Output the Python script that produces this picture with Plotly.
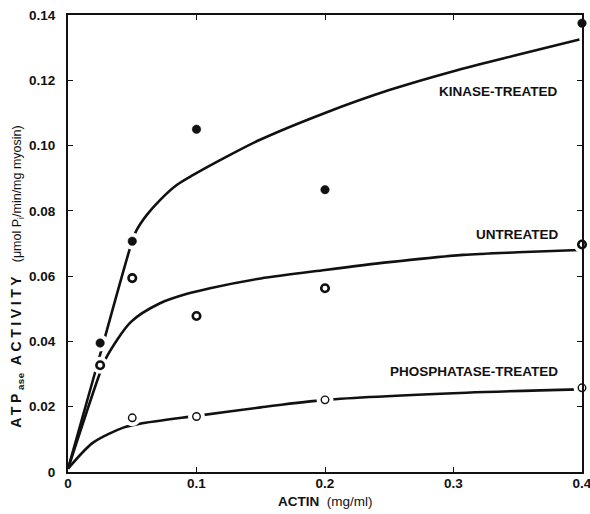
import plotly.graph_objects as go

# ---- data ----
actin = [0.025, 0.05, 0.1, 0.2, 0.4]
kinase_pts = [0.0395, 0.0707, 0.105, 0.0865, 0.1375]
untreated_pts = [0.0327, 0.0594, 0.0478, 0.0563, 0.0697]
phos_x = [0.05, 0.1, 0.2, 0.4]
phos_pts = [0.0166, 0.0170, 0.0221, 0.0258]

kin_curve_x = [0, 0.025, 0.05, 0.0534, 0.0612, 0.0716, 0.0846, 0.0975, 0.1235, 0.149, 0.2, 0.25, 0.3, 0.35, 0.398]
kin_curve_y = [0.001, 0.036, 0.0708, 0.0741, 0.0787, 0.0833, 0.0879, 0.0910, 0.0966, 0.1017, 0.110, 0.117, 0.1228, 0.1278, 0.1325]

unt_curve_x = [0, 0.025, 0.0301, 0.049, 0.0716, 0.092, 0.1105, 0.15, 0.2, 0.25, 0.3075, 0.35, 0.398]
unt_curve_y = [0.001, 0.0305, 0.0353, 0.046, 0.0517, 0.0545, 0.0563, 0.0593, 0.0619, 0.0643, 0.0665, 0.0673, 0.0680]

pho_curve_x = [0, 0.0195, 0.043, 0.056, 0.1, 0.15, 0.2, 0.31, 0.398]
pho_curve_y = [0.001, 0.009, 0.0136, 0.0148, 0.0172, 0.0198, 0.0221, 0.0243, 0.0253]

x_ticks = [0, 0.1, 0.2, 0.3, 0.4]
x_ticktext = ["0", "0.1", "0.2", "0.3", "0.4"]
y_ticks = [0, 0.02, 0.04, 0.06, 0.08, 0.10, 0.12, 0.14]
y_ticktext = ["0", "0.02", "0.04", "0.06", "0.08", "0.10", "0.12", "0.14"]

labels = ["KINASE-TREATED", "UNTREATED", "PHOSPHATASE-TREATED"]
label_y = [0.1165, 0.0728, 0.0307]

INK = "#111111"
FONT = "Liberation Sans, Arial, sans-serif"

fig = go.Figure()

line_style = dict(color=INK, width=2.6)
for cx, cy in [(kin_curve_x, kin_curve_y), (unt_curve_x, unt_curve_y), (pho_curve_x, pho_curve_y)]:
    fig.add_trace(go.Scatter(x=cx, y=cy, mode="lines", line=dict(shape="spline", smoothing=0.8, **line_style),
                             hoverinfo="skip", showlegend=False))

# white halos to break the curves around the points
for px, py in [(actin, kinase_pts), (actin, untreated_pts), (phos_x, phos_pts)]:
    fig.add_trace(go.Scatter(x=px, y=py, mode="markers", cliponaxis=False,
                             marker=dict(color="white", size=17, line=dict(width=0)),
                             hoverinfo="skip", showlegend=False))

fig.add_trace(go.Scatter(x=actin, y=kinase_pts, mode="markers", cliponaxis=False, name="Kinase-treated",
                         marker=dict(color=INK, size=8.5, line=dict(color=INK, width=0.5)), showlegend=False))
fig.add_trace(go.Scatter(x=actin, y=untreated_pts, mode="markers", cliponaxis=False, name="Untreated",
                         marker=dict(color="white", size=7.5, line=dict(color=INK, width=2.6)), showlegend=False))
fig.add_trace(go.Scatter(x=phos_x, y=phos_pts, mode="markers", cliponaxis=False, name="Phosphatase-treated",
                         marker=dict(color="white", size=7.5, line=dict(color=INK, width=1.4)), showlegend=False))

for t, ly in zip(labels, label_y):
    fig.add_annotation(x=0.383, y=ly, text=t, showarrow=False, xanchor="right", yanchor="middle",
                       font=dict(family=FONT, size=13.5, color=INK, weight="bold"))

ytitle = ('<span style="letter-spacing:3.6px;font-weight:bold;font-size:14px">ATP'
          '<sub><span style="letter-spacing:0.5px">ase</span></sub> ACTIVITY</span>'
          '   (μmol P<sub>i</sub>/min/mg myosin)')
fig.add_annotation(xref="paper", yref="paper", x=-0.0992, y=0.427, textangle=-90,
                   xanchor="center", yanchor="middle", text=ytitle,
                   showarrow=False, font=dict(family=FONT, size=12.5, color=INK))
fig.add_annotation(xref="paper", yref="paper", x=0.5, y=-0.0656, xanchor="center", yanchor="middle",
                   text="<b>ACTIN</b>  (mg/ml)",
                   showarrow=False, font=dict(family=FONT, size=13.5, color=INK))

axis_common = dict(showline=True, linecolor=INK, linewidth=2.2, mirror="ticks", ticks="inside",
                   ticklen=5, tickwidth=1.3, tickcolor=INK, showgrid=False, zeroline=False,
                   automargin=False, ticklabeloverflow="allow",
                   tickfont=dict(family=FONT, size=13.5, color=INK, weight="bold"))

fig.update_xaxes(range=[0, 0.4], tickvals=x_ticks, ticktext=x_ticktext, ticklabelstandoff=-2, **axis_common)
fig.update_yaxes(range=[0, 0.14], tickvals=y_ticks, ticktext=y_ticktext, ticklabelstandoff=8, **axis_common)

fig.update_layout(width=590, height=514, margin=dict(l=68, r=8, t=15, b=42),
                  paper_bgcolor="white", plot_bgcolor="white", showlegend=False)

fig.write_html("out.html")
